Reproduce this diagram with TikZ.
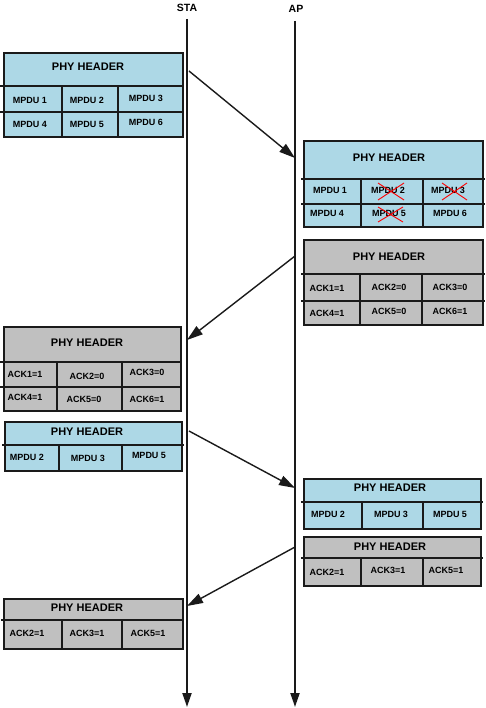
\documentclass[tikz,border=0pt]{standalone}
\usepackage{fontspec}
\setmainfont{Liberation Sans}
\usetikzlibrary{arrows.meta}
\definecolor{bl}{HTML}{ADD8E6}
\definecolor{gr}{HTML}{C0C0C0}
\definecolor{ln}{HTML}{1A1A1A}
\tikzset{
  pbox/.style={draw=ln, line width=1.6pt, inner sep=0pt, anchor=north west},
  hdr/.style={font=\bfseries\fontsize{11}{13}\selectfont, inner sep=0pt},
  cell/.style={font=\bfseries\fontsize{9}{11}\selectfont, inner sep=0pt},
  sep/.style={draw=ln, line width=1.6pt},
  xx/.style={draw=red, line width=0.9pt},
  life/.style={draw=ln, line width=2pt, -{Triangle[length=14pt,width=9pt]}},
  msg/.style={draw=ln, line width=1.4pt, -{Triangle[length=16pt,width=10pt]}},
  lbl/.style={font=\bfseries\fontsize{10.5}{12}\selectfont, inner sep=0pt}
}
\begin{document}
\begin{tikzpicture}[x=1pt,y=-1pt]
\useasboundingbox (0,0) rectangle (485,708);
% lifelines
\node[lbl] (sta) at (187,8) {STA};
\node[lbl] (ap) at (296,9) {AP};
\coordinate (stat) at (187,19);
\coordinate (stab) at (187,707);
\coordinate (apt) at (295,21);
\coordinate (apb) at (295,707);
\draw[life] (stat) -- (stab);
\draw[life] (apt) -- (apb);
% messages
\coordinate (m1s) at (189,71);  \coordinate (m1e) at (295,158);
\coordinate (m2s) at (295,256); \coordinate (m2e) at (187,340);
\coordinate (m3s) at (189,431); \coordinate (m3e) at (295,488);
\coordinate (m4s) at (295,547); \coordinate (m4e) at (187,606);
\draw[msg] (m1s) -- (m1e);
\draw[msg] (m2s) -- (m2e);
\draw[msg] (m3s) -- (m3e);
\draw[msg] (m4s) -- (m4e);

% Box 1
\node[pbox, fill=bl, minimum width=179pt, minimum height=84pt] (b1) at (3,52) {};
\draw[sep] (0,86) -- (184,86);
\draw[sep] (0,112) -- (184,112);
\draw[sep] (62,86) -- (62,136);
\draw[sep] (118,86) -- (118,136);
\node[hdr] (b1h) at (88,67) {PHY HEADER};
\node[cell] (b1a) at (30,100) {MPDU 1};
\node[cell] (b1b) at (87,100) {MPDU 2};
\node[cell] (b1c) at (146,98) {MPDU 3};
\node[cell] (b1d) at (30,124) {MPDU 4};
\node[cell] (b1e) at (87,124) {MPDU 5};
\node[cell] (b1f) at (146,122) {MPDU 6};

% Box 2
\node[pbox, fill=bl, minimum width=179pt, minimum height=86pt] (b2) at (303,140) {};
\draw[sep] (301,179) -- (485,179);
\draw[sep] (301,204) -- (485,204);
\draw[sep] (361,179) -- (361,226);
\draw[sep] (423,179) -- (423,226);
\node[hdr] (b2h) at (389,158) {PHY HEADER};
\node[cell] (b2a) at (330,190) {MPDU 1};
\node[cell] (b2b) at (388,190) {MPDU 2};
\node[cell] (b2c) at (448,190) {MPDU 3};
\node[cell] (b2d) at (327,213) {MPDU 4};
\node[cell] (b2e) at (389,213) {MPDU 5};
\node[cell] (b2f) at (450,213) {MPDU 6};
\draw[xx] (378,183) -- (404,200) (378,200) -- (404,183);
\draw[xx] (442,183) -- (467,200) (442,200) -- (467,183);
\draw[xx] (378,207) -- (403,222) (378,222) -- (403,207);

% Box 3
\node[pbox, fill=gr, minimum width=179pt, minimum height=85pt] (b3) at (303,239) {};
\draw[sep] (301,274) -- (485,274);
\draw[sep] (301,301) -- (485,301);
\draw[sep] (360,274) -- (360,324);
\draw[sep] (422,274) -- (422,324);
\node[hdr] (b3h) at (389,257) {PHY HEADER};
\node[cell] (b3a) at (327,288) {ACK1=1};
\node[cell] (b3b) at (389,287) {ACK2=0};
\node[cell] (b3c) at (450,287) {ACK3=0};
\node[cell] (b3d) at (327,313) {ACK4=1};
\node[cell] (b3e) at (389,311) {ACK5=0};
\node[cell] (b3f) at (450,311) {ACK6=1};

% Box 4
\node[pbox, fill=gr, minimum width=177pt, minimum height=84pt] (b4) at (3,326) {};
\draw[sep] (0,362) -- (182,362);
\draw[sep] (0,387) -- (182,387);
\draw[sep] (57,362) -- (57,410);
\draw[sep] (122,362) -- (122,410);
\node[hdr] (b4h) at (87,343) {PHY HEADER};
\node[cell] (b4a) at (25,374) {ACK1=1};
\node[cell] (b4b) at (87,376) {ACK2=0};
\node[cell] (b4c) at (147,372) {ACK3=0};
\node[cell] (b4d) at (25,397) {ACK4=1};
\node[cell] (b4e) at (84,399) {ACK5=0};
\node[cell] (b4f) at (147,399) {ACK6=1};

% Box 5
\node[pbox, fill=bl, minimum width=177pt, minimum height=49pt] (b5) at (4,421) {};
\draw[sep] (2,445) -- (184,445);
\draw[sep] (59,445) -- (59,470);
\draw[sep] (122,445) -- (122,470);
\node[hdr] (b5h) at (87,432) {PHY HEADER};
\node[cell] (b5a) at (27,457) {MPDU 2};
\node[cell] (b5b) at (88,458) {MPDU 3};
\node[cell] (b5c) at (149,455) {MPDU 5};

% Box 6
\node[pbox, fill=bl, minimum width=177pt, minimum height=50pt] (b6) at (303,478) {};
\draw[sep] (301,502) -- (483,502);
\draw[sep] (362,502) -- (362,528);
\draw[sep] (423,502) -- (423,528);
\node[hdr] (b6h) at (390,488) {PHY HEADER};
\node[cell] (b6a) at (328,514) {MPDU 2};
\node[cell] (b6b) at (391,514) {MPDU 3};
\node[cell] (b6c) at (450,514) {MPDU 5};

% Box 7
\node[pbox, fill=gr, minimum width=177pt, minimum height=49pt] (b7) at (303,536) {};
\draw[sep] (301,558) -- (483,558);
\draw[sep] (361,558) -- (361,585);
\draw[sep] (423,558) -- (423,585);
\node[hdr] (b7h) at (390,547) {PHY HEADER};
\node[cell] (b7a) at (327,572) {ACK2=1};
\node[cell] (b7b) at (388,570) {ACK3=1};
\node[cell] (b7c) at (446,570) {ACK5=1};

% Box 8
\node[pbox, fill=gr, minimum width=179pt, minimum height=50pt] (b8) at (3,598) {};
\draw[sep] (1,620) -- (184,620);
\draw[sep] (62,620) -- (62,648);
\draw[sep] (122,620) -- (122,648);
\node[hdr] (b8h) at (87,608) {PHY HEADER};
\node[cell] (b8a) at (27,633) {ACK2=1};
\node[cell] (b8b) at (87,633) {ACK3=1};
\node[cell] (b8c) at (148,633) {ACK5=1};
\end{tikzpicture}
\end{document}
